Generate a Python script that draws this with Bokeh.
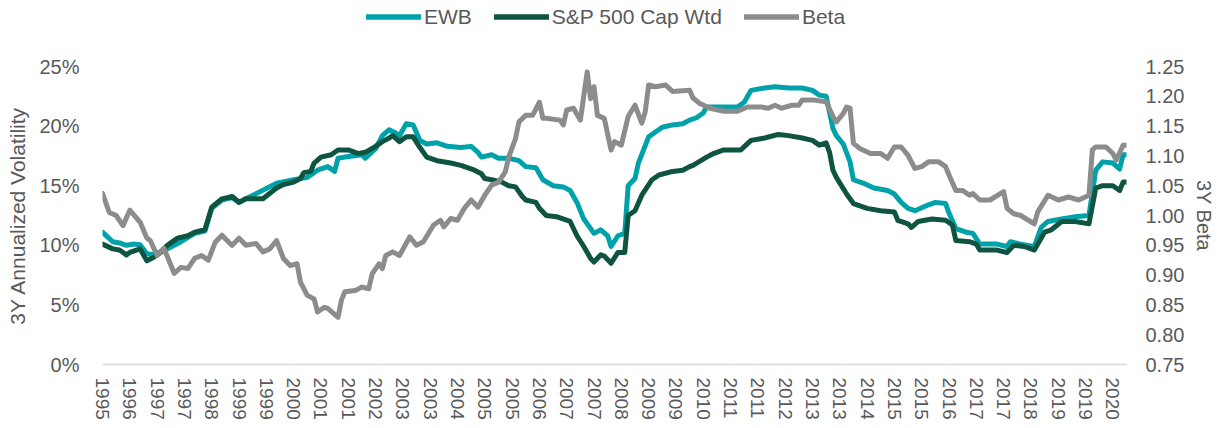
from bokeh.plotting import figure
from bokeh.layouts import column
from bokeh.models import (Range1d, LinearAxis, FixedTicker, PrintfTickFormatter,
                          Legend, LegendItem)
from bokeh.embed import file_html
from bokeh.resources import INLINE

# ---------------- data (months counted from Dec 1995) ----------------
tick_years = ["1995", "1996", "1997", "1997", "1998", "1999", "1999", "2000", "2001", "2001",
              "2002", "2003", "2003", "2004", "2005", "2005", "2006", "2007", "2007", "2008",
              "2009", "2009", "2010", "2011", "2011", "2012", "2013", "2013", "2014", "2015",
              "2015", "2016", "2017", "2017", "2018", "2019", "2019", "2020"]

ewb_month = [0, 3, 5, 7, 9, 11, 13, 15, 19, 23, 27, 30, 32, 35, 38, 40, 42, 51, 56, 60,
             63, 66, 68, 69, 71, 76, 77, 80, 82, 84, 86, 87, 89, 91, 93, 95, 98, 101, 105, 108,
             110, 111, 114, 116, 119, 122, 124, 127, 129, 132, 135, 137, 139, 141, 144, 146, 148, 149, 151, 153,
             154, 156, 157, 160, 162, 164, 167, 170, 172, 174, 176, 177, 181, 186, 188, 190, 194, 197, 201, 205,
             208, 210, 212, 214, 215, 217, 219, 220, 223, 226, 230, 232, 234, 236, 238, 242, 244, 247, 248, 250,
             253, 255, 257, 262, 265, 266, 269, 273, 275, 277, 281, 285, 289, 291, 293, 296, 298, 299, 300]
ewb_vol = [11.1, 10.3, 10.2, 10.0, 10.1, 10.05, 9.3, 9.2, 9.7, 10.3, 11.0, 11.2, 13.1, 13.8, 14.0, 13.6, 13.9, 15.2, 15.5, 15.7,
           16.3, 16.6, 16.2, 17.3, 17.4, 17.6, 17.3, 18.1, 19.2, 19.7, 19.4, 19.2, 20.2, 20.1, 18.8, 18.5, 18.6, 18.3, 18.2, 18.3,
           17.8, 17.4, 17.6, 17.3, 17.3, 17.1, 16.6, 16.5, 15.5, 15.0, 14.9, 14.6, 13.6, 12.2, 11.0, 11.3, 10.8, 9.9, 10.8, 11.0,
           15.0, 15.6, 16.9, 19.1, 19.5, 19.9, 20.1, 20.2, 20.5, 20.7, 21.1, 21.6, 21.6, 21.6, 22.0, 23.0, 23.2, 23.3, 23.2, 23.2,
           23.0, 22.6, 22.5, 19.8, 19.2, 18.5, 17.0, 15.5, 15.2, 14.8, 14.6, 14.3, 13.6, 13.1, 12.9, 13.4, 13.6, 13.5, 12.7, 11.4,
           11.1, 11.0, 10.1, 10.1, 9.9, 10.3, 10.1, 9.9, 11.5, 12.0, 12.2, 12.4, 12.5, 16.3, 17.0, 16.9, 16.4, 17.6, 17.6]

sp_month = [0, 3, 5, 7, 8, 11, 13, 15, 17, 19, 22, 25, 27, 30, 32, 35, 38, 40, 42, 45,
            47, 51, 53, 56, 58, 59, 61, 62, 64, 67, 69, 72, 75, 77, 80, 82, 84, 85, 87, 89,
            91, 93, 95, 98, 102, 105, 109, 111, 112, 114, 117, 119, 121, 123, 124, 127, 128, 130, 133, 137,
            139, 141, 143, 144, 146, 147, 149, 151, 153, 154, 156, 158, 161, 163, 167, 170, 172, 173, 177, 179,
            182, 187, 190, 194, 198, 201, 205, 208, 210, 212, 213, 214, 215, 218, 220, 224, 228, 232, 233, 236,
            237, 239, 243, 247, 249, 250, 254, 256, 257, 262, 265, 267, 270, 273, 276, 278, 281, 285, 289, 291,
            293, 296, 298, 299, 300]
sp_vol = [10.1, 9.7, 9.6, 9.2, 9.4, 9.7, 8.7, 9.0, 9.4, 10.0, 10.6, 10.8, 11.1, 11.3, 13.2, 13.9, 14.1, 13.6, 13.9, 13.9,
          13.9, 14.8, 15.1, 15.3, 15.6, 16.1, 16.2, 16.9, 17.4, 17.6, 18.0, 18.0, 17.7, 17.8, 18.3, 18.7, 19.0, 19.2, 18.7, 19.1,
          19.1, 18.2, 17.4, 17.1, 16.9, 16.7, 16.3, 16.0, 15.6, 15.5, 15.3, 15.0, 14.9, 14.1, 13.8, 13.6, 13.1, 12.5, 12.4, 12.0,
          10.8, 9.9, 8.9, 8.6, 9.2, 9.1, 8.5, 9.4, 9.4, 12.5, 12.9, 14.2, 15.5, 15.9, 16.2, 16.3, 16.6, 16.7, 17.4, 17.7,
          18.0, 18.0, 18.8, 19.0, 19.3, 19.2, 19.0, 18.8, 18.4, 18.6, 17.8, 16.3, 15.7, 14.3, 13.5, 13.1, 12.9, 12.8, 12.1, 11.8,
          11.5, 12.0, 12.2, 12.1, 11.7, 10.4, 10.3, 10.1, 9.6, 9.6, 9.4, 10.0, 9.9, 9.6, 11.1, 11.3, 12.0, 12.0, 11.8, 14.8,
          15.0, 15.0, 14.6, 15.3, 15.3]

beta_month = [0, 2, 4, 6, 8, 11, 13, 14, 16, 18, 21, 23, 25, 27, 29, 31, 33, 35, 37, 38,
              40, 42, 45, 47, 49, 51, 53, 55, 57, 58, 60, 62, 63, 65, 66, 69, 70, 71, 74, 76,
              78, 79, 81, 82, 83, 85, 87, 90, 92, 94, 97, 99, 100, 102, 104, 106, 108, 110, 112, 114,
              116, 118, 119, 121, 122, 124, 126, 128, 129, 130, 134, 135, 136, 138, 140, 142, 143, 144, 145, 147,
              149, 150, 152, 154, 156, 158, 159, 160, 162, 165, 167, 172, 173, 175, 178, 182, 186, 189, 193, 195,
              197, 199, 202, 204, 205, 208, 212, 214, 215, 217, 218, 219, 220, 222, 225, 228, 230, 232, 234, 236,
              238, 240, 242, 245, 247, 248, 250, 252, 254, 255, 257, 260, 264, 265, 267, 269, 273, 274, 277, 280,
              283, 286, 289, 290, 291, 294, 296, 297, 299, 300]
beta = [1.037, 1.005, 1.000, 0.983, 1.009, 0.989, 0.962, 0.958, 0.933, 0.945, 0.903, 0.913, 0.911, 0.928, 0.933, 0.925, 0.955, 0.967, 0.955, 0.950,
        0.962, 0.950, 0.953, 0.939, 0.944, 0.958, 0.928, 0.916, 0.919, 0.888, 0.866, 0.860, 0.838, 0.846, 0.844, 0.829, 0.858, 0.872, 0.874, 0.880,
        0.877, 0.902, 0.919, 0.911, 0.933, 0.939, 0.933, 0.964, 0.950, 0.956, 0.984, 0.992, 0.981, 0.995, 0.992, 1.012, 1.026, 1.014, 1.034, 1.051,
        1.056, 1.073, 1.098, 1.129, 1.157, 1.168, 1.168, 1.190, 1.163, 1.163, 1.160, 1.152, 1.177, 1.180, 1.160, 1.241, 1.196, 1.216, 1.168, 1.163,
        1.110, 1.124, 1.118, 1.166, 1.185, 1.155, 1.174, 1.219, 1.216, 1.219, 1.208, 1.210, 1.197, 1.188, 1.180, 1.175, 1.175, 1.182, 1.182, 1.180,
        1.185, 1.180, 1.185, 1.185, 1.194, 1.194, 1.191, 1.166, 1.157, 1.171, 1.182, 1.180, 1.121, 1.112, 1.104, 1.104, 1.096, 1.115, 1.115, 1.101,
        1.079, 1.082, 1.090, 1.090, 1.082, 1.068, 1.042, 1.042, 1.034, 1.037, 1.026, 1.026, 1.040, 1.012, 1.003, 1.000, 0.986, 1.006, 1.034, 1.026,
        1.031, 1.026, 1.034, 1.110, 1.115, 1.115, 1.104, 1.093, 1.118, 1.118]

series_names = ["EWB", "S&P 500 Cap Wtd", "Beta"]

# ---------------- style ----------------
FONT = "Liberation Sans"
TXT = "#595959"
TEAL = "#00A2AA"
DKGREEN = "#0E5440"
GRAY = "#8C8C8C"
COLORS = [TEAL, DKGREEN, GRAY]
LW = 5
TOTAL_W = 1218
LEG_H = 32

# ---------------- legend strip ----------------
lf = figure(width=TOTAL_W, height=LEG_H, output_backend="svg", toolbar_location=None,
            x_range=Range1d(0, 1), y_range=Range1d(0, 1),
            x_axis_location=None, y_axis_location=None,
            min_border_left=0, min_border_right=0, min_border_top=0, min_border_bottom=0)
lf.outline_line_color = None
lf.xgrid.visible = False
lf.ygrid.visible = False
# proxy renderers kept outside the visible range: only their legend swatches show
dummies = [lf.line([-2, -1], [-2, -2], line_color=c, line_width=LW + 0.5, line_cap="round") for c in COLORS]
legend = Legend(items=[LegendItem(label=n, renderers=[r]) for n, r in zip(series_names, dummies)],
                orientation="horizontal", location=(264, 3),
                glyph_width=55, glyph_height=25, label_height=25, label_standoff=3, spacing=22,
                padding=0, margin=0, border_line_alpha=0, background_fill_alpha=0,
                label_text_font=FONT, label_text_font_size="21px", label_text_color=TXT)
lf.add_layout(legend)

# ---------------- main chart ----------------
p = figure(frame_width=1024, frame_height=298, output_backend="svg", toolbar_location=None,
           x_range=Range1d(0, 300), y_range=Range1d(0, 25),
           min_border_left=102, min_border_right=90, min_border_top=66 - LEG_H, min_border_bottom=63)
p.outline_line_color = None
p.xgrid.visible = False
p.ygrid.visible = False
p.background_fill_color = "white"
p.border_fill_color = "white"

# x axis
xa = p.xaxis[0]
tick_pos = [8 * i for i in range(len(tick_years))]
xa.ticker = FixedTicker(ticks=tick_pos)
xa.major_label_overrides = {t: y for t, y in zip(tick_pos, tick_years)}
xa.major_label_orientation = "vertical"
xa.major_tick_line_color = None
xa.minor_tick_line_color = None
xa.axis_line_color = "#D9D9D9"
xa.axis_line_width = 1.5
xa.major_label_standoff = 7
xa.major_label_text_font = FONT
xa.major_label_text_font_size = "19px"
xa.major_label_text_color = TXT

# left axis
ya = p.yaxis[0]
ya.ticker = FixedTicker(ticks=[0, 5, 10, 15, 20, 25])
ya.formatter = PrintfTickFormatter(format="%d%%")
ya.axis_line_color = None
ya.major_tick_line_color = None
ya.minor_tick_line_color = None
ya.major_label_standoff = 17
ya.major_label_text_font = FONT
ya.major_label_text_font_size = "20px"
ya.major_label_text_color = TXT
ya.axis_label = "3Y Annualized Volatility"
ya.axis_label_text_font = FONT
ya.axis_label_text_font_size = "21px"
ya.axis_label_text_font_style = "normal"
ya.axis_label_text_color = TXT
ya.axis_label_standoff = 7

# right axis
p.extra_y_ranges = {"beta": Range1d(0.75, 1.25)}
ra = LinearAxis(y_range_name="beta",
                ticker=FixedTicker(ticks=[0.75 + 0.05 * i for i in range(11)]),
                formatter=PrintfTickFormatter(format="%.2f"))
ra.axis_line_color = None
ra.major_tick_line_color = None
ra.minor_tick_line_color = None
ra.major_label_standoff = 13
ra.major_label_text_font = FONT
ra.major_label_text_font_size = "20px"
ra.major_label_text_color = TXT
ra.axis_label = "3Y Beta"
ra.axis_label_text_font = FONT
ra.axis_label_text_font_size = "20px"
ra.axis_label_text_font_style = "normal"
ra.axis_label_text_color = TXT
ra.axis_label_standoff = 6
p.add_layout(ra, "right")

# lines (beta drawn last, on top)
p.line(ewb_month, ewb_vol, line_color=TEAL, line_width=LW, line_join="round", line_cap="round")
p.line(sp_month, sp_vol, line_color=DKGREEN, line_width=LW, line_join="round", line_cap="round")
p.line(beta_month, beta, y_range_name="beta", line_color=GRAY, line_width=LW,
       line_join="round", line_cap="round")

layout = column(lf, p, spacing=0)
open("out.html", "w").write(file_html(layout, INLINE))
